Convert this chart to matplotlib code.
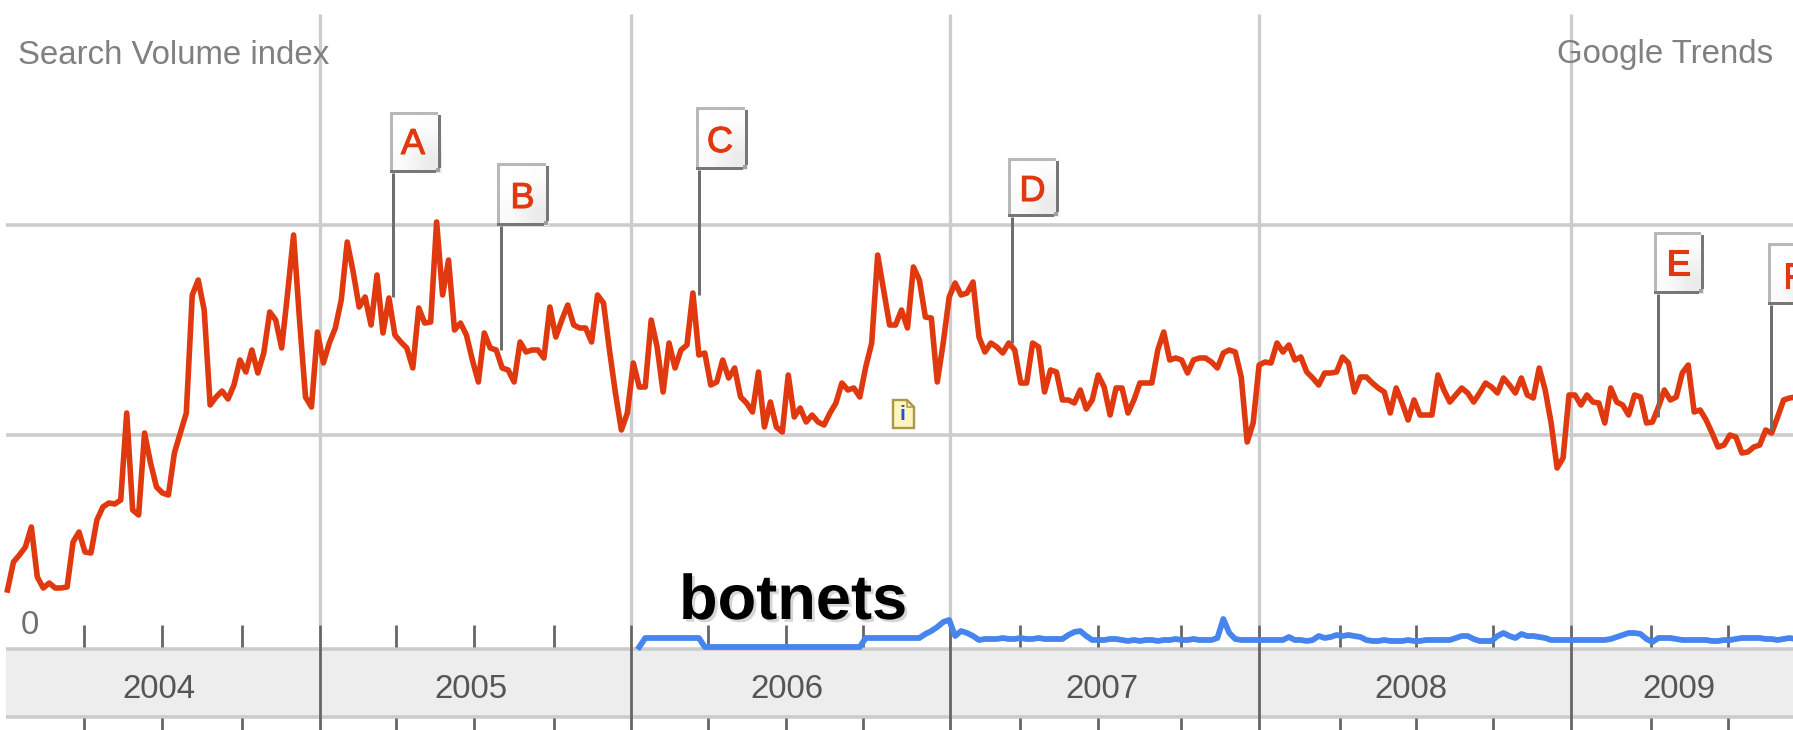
import numpy as np
import matplotlib
matplotlib.use("Agg")
import matplotlib.pyplot as plt
from matplotlib.patches import Rectangle, Polygon
from matplotlib.transforms import Affine2D
import matplotlib.patheffects as pe

plt.rcParams['font.family'] = ['Liberation Sans', 'DejaVu Sans']

# ---- data: one value per week, starting January 2004 (210 units = 1.0 on the index) ----
red_values = [
    55, 83, 90, 98, 118, 68, 57, 62, 57, 57, 58, 103, 113, 93, 92, 125, 138, 142, 141, 145,
    232, 135, 130, 212, 182, 158, 152, 150, 192, 212, 232, 350, 365, 335, 240, 248, 254, 246, 260, 285,
    273, 295, 272, 292, 333, 325, 297, 352, 410, 325, 248, 238, 313, 282, 302, 317, 345,
    403, 373, 338, 348, 320, 370, 312, 347, 310, 303, 297, 277, 337, 322, 323, 423, 350, 385, 315,
    322, 310, 285, 263, 312, 297, 295, 277, 275, 263, 303, 293, 295, 295, 287, 338, 308, 325, 340,
    320, 317, 317, 303, 350, 342, 295, 252, 215, 232, 282,
    258, 258, 325, 298, 253, 302, 277, 295, 300, 352, 290, 292, 260, 263, 285, 267, 277, 248, 242, 233,
    273, 218, 243, 218, 213, 270, 228, 237, 223, 230, 223, 220, 232, 242, 262, 255, 257, 248, 278, 302, 390,
    355, 320, 320, 335, 317, 378, 365, 328, 327, 263, 302, 348, 362, 350, 352, 363, 308, 293, 302, 298,
    292, 302, 295, 262, 262, 302, 298, 253, 275, 273, 245, 245, 242, 255, 236, 245, 270, 258, 230, 257,
    257, 232, 245, 262, 262, 262, 295, 313, 285, 287, 285, 272, 285, 287, 287, 283, 277, 292,
    295, 293, 268, 203, 222, 280, 283, 282, 302, 293, 300, 285, 288, 273, 267, 260, 272, 272, 273, 288,
    282, 253, 268, 268, 262, 257, 253, 232, 257, 242, 225, 245, 230, 230, 230, 270, 255, 243, 250, 257,
    252, 243, 252, 262, 258, 252, 267, 260, 252, 267, 250, 247, 277, 255, 222, 177, 187, 250, 250, 240,
    250, 243, 242, 222, 257, 243, 240, 230, 250, 248, 222, 223, 238, 255, 245, 248, 272, 280, 233, 235,
    225, 212, 198, 200, 210, 208, 192, 193, 198, 200, 215, 212, 228, 245, 247, 248,
]
blue_first_week = 106
blue_values = [
    -2, 7, 7, 7, 7, 7, 7, 7, 7, 7, 7,
    -2, -2, -2, -2, -2, -2, -2, -2, -2, -2, -2, -2, -2, -2, -2, -2, -2, -2, -2, -2, -2, -2, -2, -2, -2, -2, -2,
    7, 7, 7, 7, 7, 7, 7, 7, 7, 7,
    11, 14, 18, 23, 25, 9, 14, 12, 9, 5,
    6, 6, 6, 7, 6, 6, 7, 6, 6, 7, 6, 6, 6, 6,
    10, 13, 14, 9, 5,
    5, 5, 6, 6, 5, 4, 5, 4, 5, 5, 4, 5, 5, 6, 5, 5, 6, 5, 5, 5,
    7, 26, 12, 6,
    5, 5, 5, 5, 5, 5, 5, 5,
    8, 5, 5, 4, 5, 9, 7, 8, 10, 9, 10, 9, 8, 5, 4, 4, 5, 4, 4, 4, 5, 4, 4, 5, 5, 5, 5, 5,
    7, 9, 9, 6, 4, 4, 4, 9, 12, 9, 7, 11, 9, 9, 8, 7,
    5, 5, 5, 5, 5, 5, 5, 5, 5, 5,
    6, 8, 10, 12, 12, 11, 6, 3, 7, 7, 7, 6, 5, 5, 5, 5, 5, 4, 4, 5, 5, 6, 7, 7, 7, 7, 6, 6, 5, 6, 7, 6,
]
series_label = "botnets"

year_labels = ["2004", "2005", "2006", "2007", "2008", "2009"]
year_start_weeks = [52.4, 104.6, 158.1, 209.9, 262.3]
minor_tick_weeks = [12.9, 25.9, 39.4, 65.2, 78.3, 91.7, 117.5, 130.6, 143.5, 169.9, 183.0, 196.9,
                    223.5, 236.3, 249.3, 275.8, 288.7]
grid_levels = [210, 420]

flag_letters = ["A", "B", "C", "D", "E", "F"]
flag_weeks = [64.7, 82.8, 116.1, 168.5, 276.9, 295.9]
flag_values = [348, 295, 350, 302, 228, 215]

# ---- layout ----
W, H = 1793, 730
PX_PER_WEEK, X0, Y0 = 5.96, 7.5, 645


def WK(px):
    return (px - X0) / PX_PER_WEEK


def U(py):
    return Y0 - py


fig = plt.figure(figsize=(W / 100, H / 100), dpi=100, facecolor="white")
ax = fig.add_axes([0, 0, 1, 1])
ax.set_axis_off()
px = Affine2D().scale(1, -1).translate(0, H)
XLIM, YLIM = (WK(0), WK(W)), (U(H), U(0))

GRID, DARK, BAND = "#CCCCCC", "#666666", "#EDEDED"
RED, BLUE = "#E0390F", "#4684EE"
LABEL = "#808080"
PT = 0.72  # points per pixel at 100 dpi

# grid
ax.hlines(grid_levels, WK(6), WK(W), color=GRID, lw=3.6 * PT, zorder=1)
ax.vlines(year_start_weeks, U(625), U(14), color=GRID, lw=3.3 * PT, zorder=1)

# bottom band
ax.add_patch(Rectangle((6, 649), W - 6, 67, transform=px, fc=BAND, ec="none", zorder=1))
ax.hlines([U(648.7), U(716.5)], WK(6), WK(W), color=GRID, lw=3.6 * PT, zorder=1.5)
ax.vlines(year_start_weeks, U(730), U(625), color=DARK, lw=2.8 * PT, zorder=2)
ax.vlines(minor_tick_weeks, U(647), U(625), color=DARK, lw=2.8 * PT, zorder=2)
ax.vlines(minor_tick_weeks, U(730), U(718), color=DARK, lw=2.8 * PT, zorder=2)

# series
ax.plot(np.arange(len(red_values)), red_values, color=RED, lw=5.6 * PT, zorder=3,
        solid_joinstyle="round")
ax.plot(blue_first_week + np.arange(len(blue_values)), blue_values, color=BLUE, lw=5.8 * PT, zorder=4,
        solid_joinstyle="round")

# flags: (box left, top, right, bottom, letter x, letter y)
flag_boxes = [
    (390, 112, 441, 173, 413, 143),
    (497, 163, 549, 226, 522.5, 197),
    (696, 107, 748, 170, 720, 141),
    (1008, 158, 1059, 217, 1032.5, 190),
    (1654, 232, 1704, 294, 1678.5, 264),
    (1768, 243, 1820, 305, 1794, 277),
]
grad = np.array([[1.0, 0.985], [0.98, 0.92]])
letter_fx = [pe.withStroke(linewidth=0.8, foreground=RED)]
for let, wk, val, (l, t, r, b, lx, ly) in zip(flag_letters, flag_weeks, flag_values, flag_boxes):
    ax.vlines(wk, val, U(b), color="#6E6E6E", lw=3.0 * PT, zorder=5)
    ax.imshow(grad, extent=[WK(l), WK(r), U(b), U(t)], cmap="gray", vmin=0, vmax=1, aspect="auto",
              interpolation="bilinear", zorder=6)
    ax.add_patch(Rectangle((l, t), r - l - 3, 3.2, transform=px, fc="#B8B8B8", ec="none", zorder=6.1))
    ax.add_patch(Rectangle((l, t), 3.2, b - t - 3, transform=px, fc="#B8B8B8", ec="none", zorder=6.1))
    ax.add_patch(Rectangle((r - 3.4, t + 3), 3.4, b - t - 8, transform=px, fc="#777777", ec="none", zorder=6.1))
    ax.add_patch(Rectangle((l, b - 3.4), r - l - 5, 3.4, transform=px, fc="#777777", ec="none", zorder=6.1))
    ax.add_patch(Rectangle((r - 5, b - 5), 4, 4, transform=px, fc="#A0A0A0", ec="none", zorder=6.1))
    ax.text(lx, ly + 1.5, let, transform=px, color=RED, fontsize=26, ha="center", va="center", zorder=7,
            path_effects=letter_fx)

# info icon
ax.add_patch(Polygon([(893, 400), (907, 400), (914, 407), (914, 428), (893, 428)], closed=True, transform=px,
                     fc="#FFF4BE", ec="#A89848", lw=2.4 * PT, zorder=6))
ax.plot([907, 907, 914], [400, 407, 407], transform=px, color="#A89848", lw=1.5 * PT, zorder=6.1)
ax.text(902.5, 415, "i", transform=px, color="#2050D0", fontsize=15, fontweight="bold",
        ha="center", va="center", zorder=7)

# texts
TXT = 23.8
ax.text(18, 55, "Search Volume index", transform=px, color=LABEL, fontsize=TXT, ha="left", va="center", zorder=7)
ax.text(1773, 55, "Google Trends", transform=px, color=LABEL, fontsize=TXT, ha="right", va="center", zorder=7)
ax.text(30, 626, "0", transform=px, color="#707070", fontsize=TXT, ha="center", va="center", zorder=7)
for lab, cx in zip(year_labels, [159, 471, 787, 1102, 1411, 1679]):
    ax.text(cx, 689, lab, transform=px, color="#555555", fontsize=TXT, ha="center", va="center", zorder=7)

ax.text(793, 619, series_label, transform=px, color="black", fontsize=45.5, fontweight="bold", ha="center",
        va="baseline", zorder=8,
        path_effects=[pe.SimplePatchShadow(offset=(2, -2), shadow_rgbFace="#999999", alpha=0.4), pe.Normal()])

ax.set_xlim(*XLIM)
ax.set_ylim(*YLIM)
fig.savefig("out.png", dpi=100, facecolor="white")
